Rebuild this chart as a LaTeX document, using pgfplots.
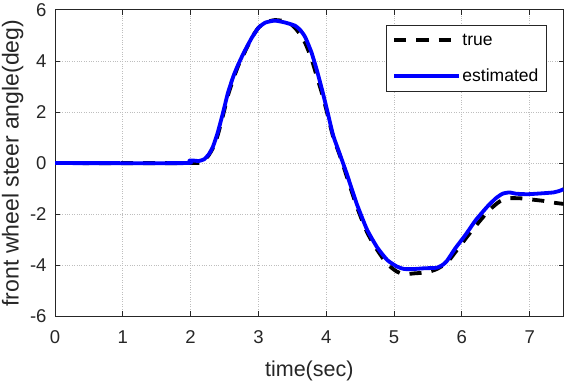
\documentclass[border=0pt]{standalone}
\usepackage{fontspec}
\setmainfont{Liberation Sans}
\usepackage{pgfplots}
\pgfplotsset{compat=1.18}
\definecolor{txt}{HTML}{262626}
\definecolor{gridc}{HTML}{BEBEBE}
\begin{document}
\begin{tikzpicture}
\begin{axis}[
  scale only axis,
  width=508pt, height=306pt,
  xmin=0, xmax=7.5, ymin=-6, ymax=6,
  xtick={0,1,...,7}, ytick={-6,-4,...,6},
  /pgf/number format/assume math mode=true,
  tick label style={text=txt, font=\fontsize{18.5}{21}\selectfont},
  xlabel style={text=txt, font=\fontsize{21.5}{24}\selectfont, yshift=-10pt},
  ylabel style={text=txt, font=\fontsize{23}{26}\selectfont, yshift=1pt, inner sep=2pt},
  xlabel={time(sec)}, ylabel={front wheel steer angle(deg)},
  xticklabel style={yshift=-11pt},
  yticklabel style={xshift=-5pt},
  grid=major,
  major grid style={gridc, dotted, line width=0.8pt},
  axis line style={txt, line width=0.8pt},
  tick style={txt, line width=0.8pt},
  tick align=inside,
  major tick length=5pt,
  legend style={at={(0.967,0.951)}, anchor=north east, draw=txt, line width=0.8pt,
    font=\fontsize{17.5}{21}\selectfont, nodes={minimum height=30pt}, row sep=6pt, inner xsep=6pt, inner ysep=0pt},
  legend cell align=left,
  legend image code/.code={\draw[#1] (0pt,0pt) -- (64pt,0pt);},
]
\addplot[black, line width=3.8pt, dash pattern=on 12pt off 10pt, smooth, tension=0.4] coordinates {
(0,0) (2.0,0) (2.15,0.05) (2.25,0.25) (2.33,0.6) (2.4,1.1) (2.48,1.9) (2.55,2.65) (2.63,3.3) (2.7,3.8) (2.78,4.25) (2.9,4.9) (3.0,5.3) (3.1,5.5) (3.24,5.6) (3.4,5.55) (3.5,5.4) (3.6,5.1) (3.69,4.7) (3.78,4.1) (3.86,3.4) (3.94,2.7) (4.01,2.0) (4.1,1.05) (4.2,0.3) (4.3,-0.5) (4.45,-1.7) (4.6,-2.7) (4.75,-3.4) (4.9,-3.95) (5.04,-4.25) (5.15,-4.35) (5.3,-4.32) (5.48,-4.28) (5.63,-4.15) (5.78,-3.9) (5.9,-3.5) (6.0,-3.15) (6.1,-2.8) (6.27,-2.25) (6.4,-1.85) (6.56,-1.5) (6.7,-1.38) (6.86,-1.38) (7.0,-1.42) (7.2,-1.48) (7.35,-1.55) (7.5,-1.6)
};
\addlegendentry{true}
\addplot[blue, line width=3.8pt, line join=round, smooth, tension=0.3] coordinates {
(0,0) (1.93,0) (1.98,0.1) (2.04,0.1) (2.12,0.08) (2.2,0.15) (2.27,0.35) (2.33,0.65) (2.4,1.2) (2.48,2.0) (2.55,2.75) (2.63,3.4) (2.7,3.85) (2.78,4.3) (2.9,4.9) (3.0,5.3) (3.1,5.5) (3.24,5.58) (3.4,5.5) (3.54,5.38) (3.62,5.2) (3.69,4.93) (3.78,4.35) (3.86,3.65) (3.94,2.85) (4.01,2.1) (4.1,1.1) (4.2,0.35) (4.3,-0.4) (4.45,-1.6) (4.6,-2.6) (4.75,-3.3) (4.9,-3.8) (5.04,-4.05) (5.15,-4.15) (5.29,-4.15) (5.45,-4.12) (5.63,-4.1) (5.72,-3.98) (5.78,-3.83) (5.9,-3.35) (6.0,-3.0) (6.07,-2.75) (6.2,-2.25) (6.37,-1.72) (6.5,-1.38) (6.6,-1.2) (6.7,-1.15) (6.8,-1.2) (6.96,-1.22) (7.1,-1.2) (7.35,-1.15) (7.45,-1.08) (7.5,-1.02)
};
\addlegendentry{estimated}
\end{axis}
\end{tikzpicture}
\end{document}
